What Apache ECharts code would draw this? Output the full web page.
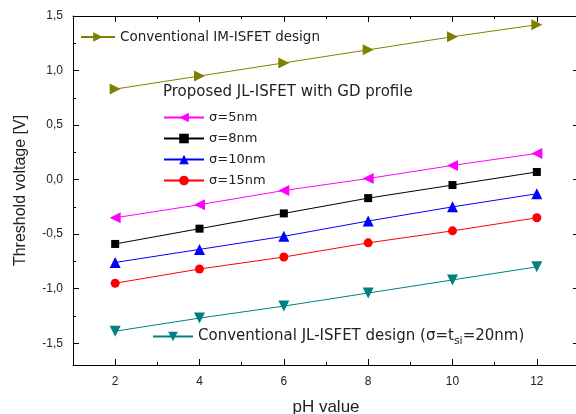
<!DOCTYPE html>
<html><head><meta charset="utf-8">
<script src="https://cdn.jsdelivr.net/npm/echarts@6/dist/echarts.min.js"></script>
<style>html,body{margin:0;padding:0;background:#fff}#c{width:576px;height:414px}</style>
</head><body><div id="c"></div>
<script>
const pH = [2, 4, 6, 8, 10, 12];
const imIsfet = [0.83, 0.95, 1.07, 1.19, 1.31, 1.42];
const sigma5 = [-0.35, -0.23, -0.10, 0.01, 0.13, 0.24];
const sigma8 = [-0.59, -0.45, -0.31, -0.17, -0.05, 0.07];
const sigma10 = [-0.76, -0.64, -0.52, -0.38, -0.25, -0.13];
const sigma15 = [-0.95, -0.82, -0.71, -0.58, -0.47, -0.35];
const jlIsfet = [-1.39, -1.27, -1.16, -1.04, -0.92, -0.80];
const xMajor = [2, 4, 6, 8, 10, 12];
const xMinor = [1, 3, 5, 7, 9, 11, 13];
const yMajor = [-1.5, -1.0, -0.5, 0.0, 0.5, 1.0, 1.5];
const yMinor = [-1.25, -0.75, -0.25, 0.25, 0.75, 1.25];

const names = {
  im: 'Conventional IM-ISFET design',
  s5: '\u03c3=5nm', s8: '\u03c3=8nm', s10: '\u03c3=10nm', s15: '\u03c3=15nm',
  jl: 'Conventional JL-ISFET design'
};
const font = 'Liberation Sans, Arial, sans-serif';
const lfont = 'DejaVu Sans, sans-serif';
const chart = echarts.init(document.getElementById('c'));
function pts(v){ return pH.map((x,i)=>[x, v[i]]); }
function ser(name, data, color, symbol, rot, size){
  return {name, type:'line', data: pts(data), xAxisIndex:0, yAxisIndex:0,
    symbol, symbolRotate: rot, symbolSize: size, showSymbol:true,
    lineStyle:{color, width:1}, itemStyle:{color}, color, animation:false};
}
const base = {min:1, max:13, type:'value'};
const ybase = {min:-1.7, max:1.5, type:'value'};
function xa(pos, vals, len, labels, line){
  return Object.assign({}, base, {position:pos, splitLine:{show:false},
    axisLine:{show:line, onZero:false, lineStyle:{color:'#000', width:1}},
    axisTick:{show:true, inside:true, length:len, customValues: vals, lineStyle:{color:'#000'}},
    axisLabel:{show:labels, customValues: vals, color:'#222', fontSize:12, fontFamily:font, margin:11}});
}
function ya(pos, vals, len, labels, line){
  return Object.assign({}, ybase, {position:pos, splitLine:{show:false},
    axisLine:{show:line, onZero:false, lineStyle:{color:'#000', width:1}},
    axisTick:{show:true, inside:true, length:len, customValues: vals, lineStyle:{color:'#000'}},
    axisLabel:{show:labels, customValues: vals, color:'#222', fontSize:12, fontFamily:font, margin:10,
      formatter: v => v.toFixed(1).replace('.', ',')}});
}
const xAxes = [xa('bottom', xMajor, 6, true, true), xa('bottom', xMinor, 3, false, false),
  xa('top', xMajor, 6, false, true), xa('top', xMinor, 3, false, false)];
xAxes[0].name = 'pH value';
xAxes[0].nameLocation = 'middle';
xAxes[0].nameGap = 34;
xAxes[0].nameTextStyle = {fontSize:17, fontFamily:font, color:'#222'};
const yAxes = [ya('left', yMajor, 6, true, true), ya('left', yMinor, 3, false, false),
  ya('right', yMajor, 6, false, true), ya('right', yMinor, 3, false, false)];
yAxes[0].name = 'Threshold voltage [V]';
yAxes[0].nameLocation = 'middle';
yAxes[0].nameGap = 44;
yAxes[0].nameTextStyle = {fontSize:16, fontFamily:font, color:'#222'};

const legText = {fontSize:13, fontFamily:lfont, color:'#222'};
chart.setOption({
  animation:false,
  grid:{left:73, right:-3, top:16, bottom:49, outerBoundsMode:'none'},
  xAxis: xAxes, yAxis: yAxes,
  legend:[
    {data:[names.im], left:75, top:25, itemWidth:34, itemHeight:12, textStyle:Object.assign({}, legText, {fontSize:13.5}), selectedMode:false},
    {data:[names.s5, names.s8, names.s10, names.s15], orient:'vertical', left:158, top:106, itemGap:8,
      itemWidth:40, itemHeight:12, textStyle:legText, selectedMode:false},
    {data:[names.jl], left:147, top:324, itemWidth:40, itemHeight:12, selectedMode:false,
      textStyle:Object.assign({}, legText, {fontSize:15, rich:{n:{fontSize:15, fontFamily:lfont, color:'#222'}, s:{fontSize:11, fontFamily:lfont, color:'#222', verticalAlign:'bottom', padding:[9,0,0,0]}}}),
      formatter: n => '{n|' + n + ' (\u03c3=t}{s|si}{n|=20nm)}'}
  ],
  graphic:[{type:'text', left:163, top:85, style:{text:'Proposed JL-ISFET with GD profile', font:'15px ' + lfont, fill:'#222'}}],
  series:[
    ser(names.im, imIsfet, '#808000', 'triangle', -90, 11),
    ser(names.s5, sigma5, '#ff00ff', 'triangle', 90, 11),
    ser(names.s8, sigma8, '#000000', 'rect', 0, 8),
    ser(names.s10, sigma10, '#0000ff', 'triangle', 0, 11),
    ser(names.s15, sigma15, '#ff0000', 'circle', 0, 9),
    ser(names.jl, jlIsfet, '#008080', 'triangle', 180, 11)
  ]
});
</script></body></html>
